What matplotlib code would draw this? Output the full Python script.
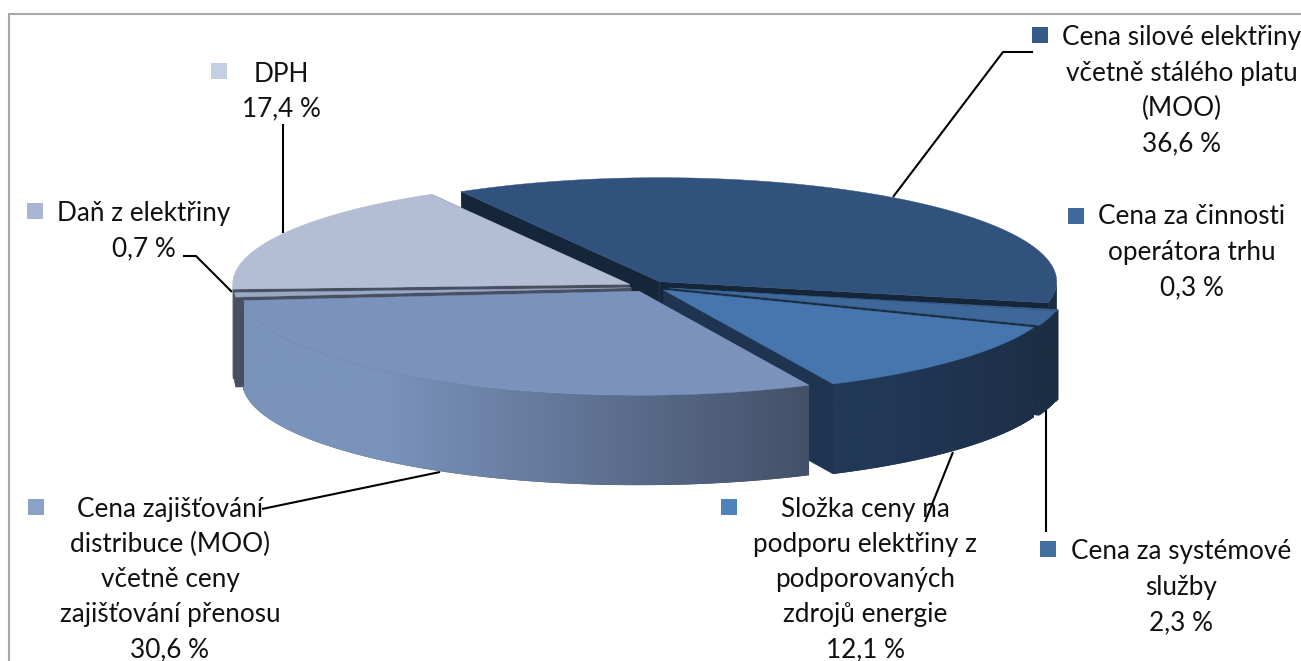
import numpy as np
import matplotlib
matplotlib.use('Agg')
import matplotlib.pyplot as plt
from matplotlib.colors import to_rgb
from matplotlib.patches import Polygon, Rectangle

plt.rcParams['font.family'] = ['Lato', 'DejaVu Sans']

# pie data, clockwise from the first slice
names = [['Cena silové elektřiny', 'včetně stálého platu', '(MOO)'],
         ['Cena za činnosti', 'operátora trhu'],
         ['Cena za systémové', 'služby'],
         ['Složka ceny na', 'podporu elektřiny z', 'podporovaných', 'zdrojů energie'],
         ['Cena zajišťování', 'distribuce (MOO)', 'včetně ceny', 'zajišťování přenosu'],
         ['Daň z elektřiny'],
         ['DPH']]
values = [36.6, 0.3, 2.3, 12.1, 30.6, 0.7, 17.4]

# styling per slice
explode = [0.063, 0.063, 0.063, 0.063, 0.03, 0.035, 0.044]
nudge_y = [0, 0, -1, -1.5, 1.5, 0.5, -0.5]
top_colors = ['#30527c', '#3c6695', '#3d6899', '#4776ae', '#7b93bc', '#9aa8c6', '#b3bdd3']
key_colors = ['#345a88', '#3f6a9c', '#41709f', '#4f81bd', '#8aa2c8', '#a8b6d3', '#c3cfe2']
side_colors = ['#16263a', '#1c2e44', '#1c2e44', '#1e3450', '#45506a', '#474f61', '#474f61']
wall_left = ['#1c2e44', '#1c2e44', '#1c2e44', '#213857', '#7a93bb', '#474f61', '#474f61']
wall_right = ['#1c2e44', '#1c2e44', '#1c2e44', '#1d2f47', '#435068', '#474f61', '#474f61']
draw_order = [0, 1, 2, 3, 6, 5, 4]

# label placement: key x, key y, text x, first line y
label_pos = [(1040, 35, 1182, 38), (1076, 216, 1192, 217), (1048, 549, 1181, 552),
             (729, 507, 865, 509), (36, 507, 170, 509), (35, 211, 144, 214), (219, 71, 281, 74)]
line_step = 35.2

leaders = [[(1033, 52), (1003, 52), (893, 197)],
           [(283, 124), (283, 233)],
           [(183, 256), (196, 256), (232, 292)],
           [(440, 472), (262, 509)],
           [(953, 452), (925, 522)],
           [(1046, 410), (1046, 532)]]

cx, cy = 645, 287
a, b = 397, 104
depth = 90
start_angle = 120.0

fig = plt.figure(figsize=(13.01, 6.61), dpi=100)
ax = fig.add_axes([0, 0, 1, 1])
ax.axis('off')

# frame of the picture
ax.add_patch(Rectangle((9, 14), 1400, 800, fc='white', ec='#a8a8a8', lw=1.5, zorder=0))

for pts in leaders:
    xs, ys = zip(*pts)
    ax.plot(xs, ys, color='black', lw=1.5, zorder=1, solid_capstyle='butt')


def rim(t, ox, oy):
    return ox + a * np.cos(t), oy - b * np.sin(t)


edges = start_angle - np.cumsum([0] + values) * 3.6
z = 2
for i in draw_order:
    t1, t2 = np.radians(edges[i]), np.radians(edges[i + 1])
    mid = (t1 + t2) / 2
    ox = cx + explode[i] * a * np.cos(mid)
    oy = cy - explode[i] * b * np.sin(mid) + nudge_y[i]
    ts = np.linspace(t1, t2, 200)
    xs, ys = rim(ts, ox, oy)

    # cut faces
    for t in (t1, t2):
        rx, ry = rim(t, ox, oy)
        ax.add_patch(Polygon([(ox, oy), (rx, ry), (rx, ry + depth), (ox, oy + depth)],
                             fc=side_colors[i], ec=side_colors[i], lw=0.3, zorder=z))

    # outer wall, only the part turned to the viewer, shaded left to right
    hi, lo = min(t1, 0.0), max(t2, -np.pi)
    if hi > lo:
        tw = np.linspace(hi, lo, 200)
        wx, wy = rim(tw, ox, oy)
        wall = Polygon(np.column_stack([np.r_[wx, wx[::-1]], np.r_[wy, wy[::-1] + depth]]),
                       fc=wall_right[i], ec='none', zorder=z, transform=ax.transData)
        ax.add_patch(wall)
        c0, c1 = np.array(to_rgb(wall_left[i])), np.array(to_rgb(wall_right[i]))
        frac = np.clip((np.linspace(0, 1, 256) - 0.25) / 0.75, 0, 1)
        grad = (c0 + (c1 - c0) * frac[:, None])[None, :, :]
        im = ax.imshow(grad, extent=(wx.min(), wx.max(), wy.max() + depth, wy.min()),
                       aspect='auto', interpolation='bilinear', zorder=z)
        im.set_clip_path(wall)

    # top surface
    ax.add_patch(Polygon(np.column_stack([np.r_[ox, xs], np.r_[oy, ys]]),
                         fc=top_colors[i], ec=top_colors[i], lw=0.3, zorder=z + 0.5))
    z += 1

# labels with keys
for i in range(len(values)):
    kx, ky, tx, ty = label_pos[i]
    ax.add_patch(Rectangle((kx - 8, ky - 8), 16, 16, fc=key_colors[i], ec='none', zorder=20))
    lines = names[i] + [f'{values[i]:.1f} %'.replace('.', ',')]
    for n, line in enumerate(lines):
        ax.text(tx, ty + n * line_step, line, ha='center', va='center',
                fontsize=18.8, color='#111111', zorder=21, clip_on=True)

ax.set_xlim(0, 1301)
ax.set_ylim(661, 0)
fig.savefig('out.png', dpi=100)
